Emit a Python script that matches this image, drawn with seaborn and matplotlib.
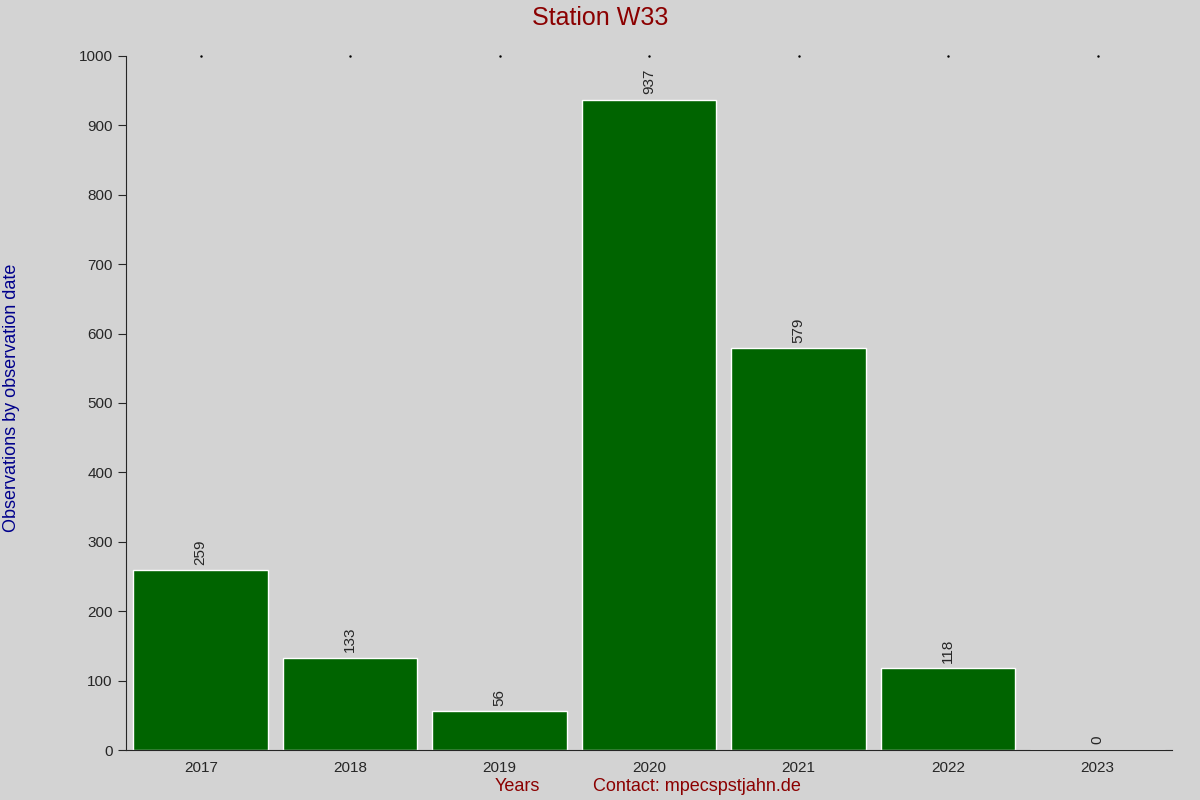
import matplotlib
matplotlib.use("Agg")
import matplotlib.pyplot as plt
import seaborn as sns
import pandas as pd

years = ["2017", "2018", "2019", "2020", "2021", "2022", "2023"]
counts = [259, 133, 56, 937, 579, 118, 0]

sns.set_style("ticks")
plt.rcParams['font.family'] = ['Liberation Sans', 'DejaVu Sans']
fig = plt.figure(figsize=(12, 8), dpi=100, facecolor="#d3d3d3")
ax = fig.add_axes([0.105, 0.0625, 0.872, 0.8675])
ax.set_facecolor("#d3d3d3")
df = pd.DataFrame({"year": years, "n": counts})
sns.barplot(data=df, x="year", y="n", color="#006400", saturation=1, width=0.9, ax=ax)
ax.set_xlim(-0.5, 6.5)
ax.set_ylim(0, 1000)
ax.set_yticks(range(0, 1001, 100))
for i, v in enumerate(counts):
    ax.text(i, v + 8, str(v), rotation=90, ha="center", va="bottom", fontsize=11)
for s in ["top", "right"]:
    ax.spines[s].set_visible(False)
ax.tick_params(axis="y", length=6, labelsize=11)
ax.tick_params(axis="x", length=0, labelsize=11, pad=8, top=True)
ax.set_xlabel("")
ax.set_ylabel("")
for i in range(7):
    ax.plot(i, 1000, marker=".", markersize=1.5, color="black", clip_on=False)
fig.text(0.5, 0.977, "Station W33", ha="center", va="center", fontsize=18, color="#8b0000")
fig.text(0.431, 0.017, "Years", ha="center", va="center", fontsize=13, color="#8b0000")
fig.text(0.581, 0.017, "Contact: mpecspstjahn.de", ha="center", va="center", fontsize=13, color="#8b0000")
fig.text(0.01, 0.503, "Observations by observation date", rotation=90, ha="center", va="center", fontsize=13, color="#00008b")
fig.savefig("out.png", dpi=100, facecolor="#d3d3d3")
